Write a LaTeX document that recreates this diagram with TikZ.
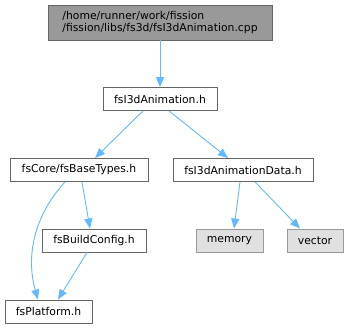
\documentclass[tikz,border=0pt]{standalone}
\usepackage{fontspec}
\setmainfont{DejaVu Sans}
\usepackage{xcolor}
\usetikzlibrary{arrows.meta, positioning}

\definecolor{edgeblue}{HTML}{63B8FF}
\definecolor{boxline}{HTML}{666666}
\definecolor{rootfill}{HTML}{999999}
\definecolor{sysfill}{HTML}{E0E0E0}
\definecolor{sysline}{HTML}{999999}

\begin{document}
\begin{tikzpicture}[
    x=1pt, y=-1pt,
    every node/.style={font=\fontsize{10.8}{12}\selectfont, inner sep=0pt},
    file/.style={rectangle, draw=boxline, line width=0.9pt, fill=white,
                 minimum height=23pt},
    rootfile/.style={file, fill=rootfill, minimum height=35pt, align=left},
    sysfile/.style={file, draw=sysline, fill=sysfill},
    edge/.style={-{Triangle[length=10pt, width=8pt]}, line width=0.9pt, draw=edgeblue}
]
\useasboundingbox (0,0) rectangle (349,328);

% --- include graph nodes ---
\node[rootfile, minimum width=224pt] (cpp) at (160, 22.5)
  {/home/runner/work/fission\\/fission/libs/fs3d/fsI3dAnimation.cpp};
\node[file, minimum width=114pt] (anim)      at (160, 99)    {fsI3dAnimation.h};
\node[file, minimum width=138pt] (basetypes) at (79, 170)    {fsCore/fsBaseTypes.h};
\node[file, minimum width=140pt] (animdata)  at (243, 170)   {fsI3dAnimationData.h};
\node[file, minimum width=104pt] (buildcfg)  at (94, 240.5)  {fsBuildConfig.h};
\node[sysfile, minimum width=67pt] (memory)  at (229.5, 240.5) {memory};
\node[sysfile, minimum width=56pt] (vector)  at (315, 240.5) {vector};
\node[file, minimum width=87pt] (platform)   at (48.5, 311.5) {fsPlatform.h};

% --- include edges ---
\draw[edge] (cpp) -- (anim);
\draw[edge] ([xshift=-17pt]anim.south) -- ([xshift=16pt]basetypes.north);
\draw[edge] ([xshift=9pt]anim.south) -- ([xshift=-15pt]animdata.north);
\draw[edge] ([xshift=3pt]basetypes.south) -- ([xshift=-4pt]buildcfg.north);
\draw[edge] ([xshift=-14pt]basetypes.south)
  .. controls +(-32,35) and +(-12,-42) .. ([xshift=-10.5pt]platform.north);
\draw[edge] ([xshift=-7pt]buildcfg.south) -- ([xshift=9.5pt]platform.north);
\draw[edge] ([xshift=-3pt]animdata.south) -- ([xshift=4.5pt]memory.north);
\draw[edge] ([xshift=12pt]animdata.south) -- ([xshift=-15pt]vector.north);

\end{tikzpicture}
\end{document}
